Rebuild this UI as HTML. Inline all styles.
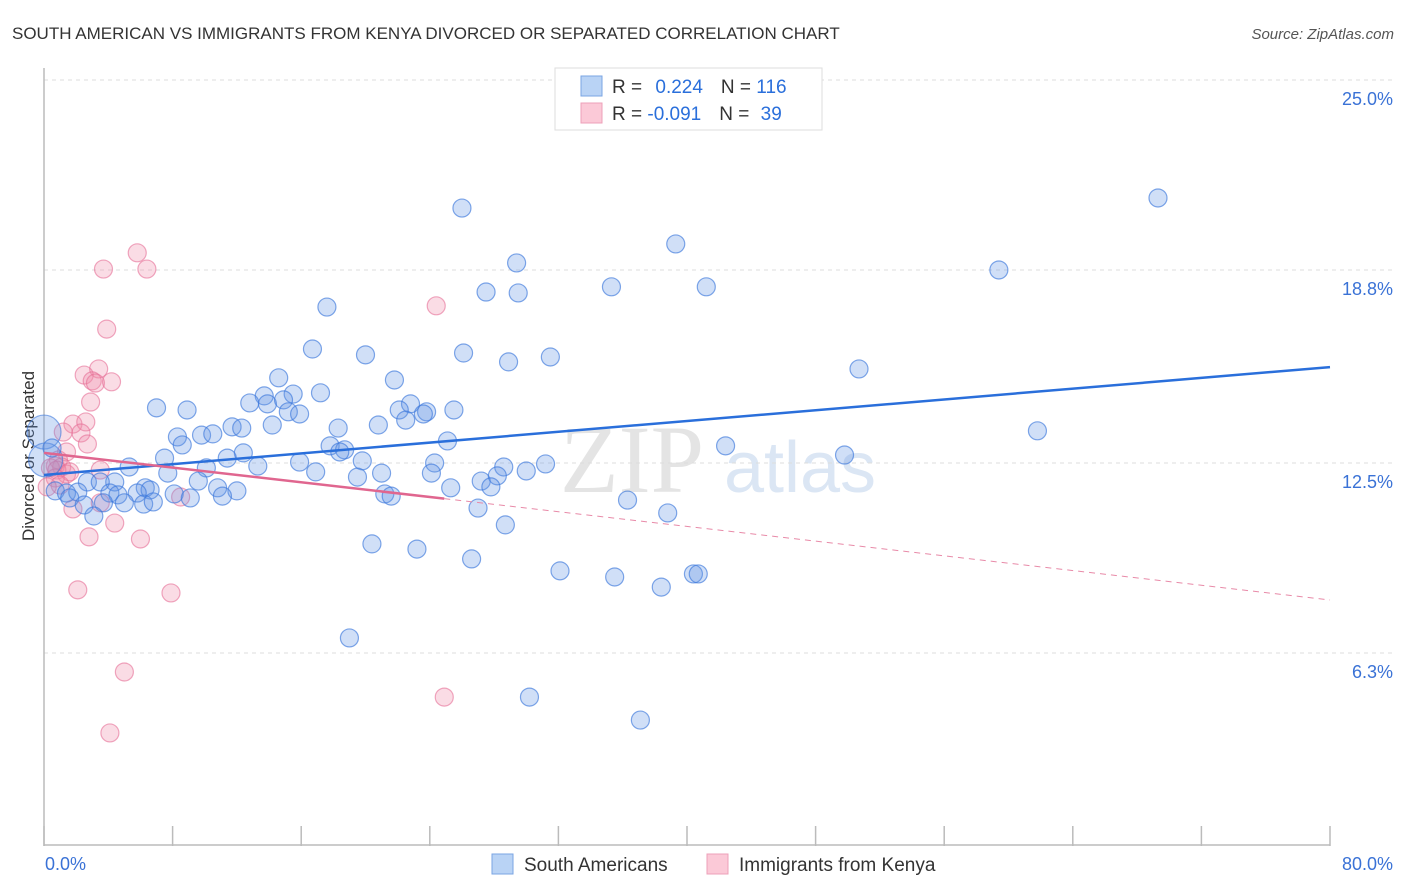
<!DOCTYPE html>
<html><head><meta charset="utf-8"><style>
body{margin:0;background:#fff;font-family:"Liberation Sans",sans-serif;}
#wrap{position:relative;width:1406px;height:892px;overflow:hidden;}
</style></head><body>
<div id="wrap">
<svg id="chart" width="1406" height="892" xmlns="http://www.w3.org/2000/svg">
<text x="12" y="39" font-size="17" fill="#333">SOUTH AMERICAN VS IMMIGRANTS FROM KENYA DIVORCED OR SEPARATED CORRELATION CHART</text>
<text x="1394" y="39" font-size="15" fill="#555" font-style="italic" text-anchor="end">Source: ZipAtlas.com</text>
<text x="34" y="456" font-size="17" fill="#333" text-anchor="middle" transform="rotate(-90 34 456)">Divorced or Separated</text>
<g><text x="632" y="492" font-size="96" fill="#e4e4e4" font-family="Liberation Serif,serif" text-anchor="middle">ZIP</text><text x="800" y="492" font-size="72" fill="#dbe6f4" text-anchor="middle">atlas</text></g>
<g id="grid"></g><g id="axes"></g><g id="pts"></g><g id="lines"></g>
<g>
<rect x="555" y="68" width="267" height="62" fill="#fff" stroke="#ddd"/>
<rect x="581" y="76" width="21" height="20" fill="#b9d3f5" stroke="#7aa5e3"/>
<rect x="581" y="103" width="21" height="20" fill="#fbc9d7" stroke="#eea0b8"/>
<text x="612" y="93" font-size="19" fill="#333">R = <tspan fill="#2a6fdb" dx="8">0.224</tspan><tspan fill="#333" dx="18">N = </tspan><tspan fill="#2a6fdb">116</tspan></text>
<text x="612" y="120" font-size="19" fill="#333">R = <tspan fill="#2a6fdb">-0.091</tspan><tspan fill="#333" dx="18">N = </tspan><tspan fill="#2a6fdb" dx="6">39</tspan></text>
</g>
<g>
<rect x="492" y="854" width="21" height="20" fill="#b9d3f5" stroke="#7aa5e3"/>
<text x="524" y="871" font-size="19" fill="#333">South Americans</text>
<rect x="707" y="854" width="21" height="20" fill="#fbc9d7" stroke="#eea0b8"/>
<text x="739" y="871" font-size="19" fill="#333">Immigrants from Kenya</text>
</g>
</svg>
</div>
<script>
const blueX=[26.0,69.3,39.3,29.4,59.4,35.3,41.2,27.5,29.5,17.6,16.7,20.0,26.1,28.9,31.5,50.7,14.6,21.8,13.7,15.5,17.2,12.8,13.9,14.9,7.0,8.9,15.2,15.9,22.8,22.1,23.8,25.5,23.6,22.5,20.8,18.3,14.2,11.7,12.3,8.3,9.8,10.5,8.6,17.8,18.7,18.4,25.1,42.4,61.8,12.4,11.4,7.5,15.9,19.8,24.3,13.3,31.2,49.8,5.3,10.1,7.7,16.9,21.0,19.5,28.6,24.1,30.0,27.2,28.2,27.8,9.6,2.7,4.4,6.3,3.5,12.0,10.8,6.6,0.7,1.4,2.1,4.1,4.6,5.8,8.1,21.2,21.6,25.3,11.1,9.1,1.6,3.7,2.5,5.0,6.2,6.8,36.3,27.0,38.8,3.1,28.7,20.4,23.2,26.6,32.1,35.5,38.4,40.4,40.7,19.0,30.2,37.1,0.5];
const blueY=[20.82,21.15,19.65,19.03,18.80,18.25,18.25,18.08,18.05,17.59,16.22,16.03,16.09,15.80,15.96,15.57,15.28,15.21,14.69,14.75,14.79,14.46,14.43,14.56,14.30,14.23,14.17,14.10,14.43,14.23,14.17,14.23,14.10,13.90,13.74,13.64,13.74,13.68,13.64,13.35,13.41,13.45,13.09,13.06,12.93,12.86,13.22,13.06,13.55,12.83,12.66,12.66,12.53,12.57,12.50,12.40,12.47,12.76,12.37,12.34,12.17,12.21,12.17,12.04,12.37,12.17,12.24,11.91,12.08,11.72,11.91,11.88,11.88,11.69,11.88,11.59,11.69,11.62,11.59,11.52,11.55,11.52,11.46,11.52,11.49,11.49,11.42,11.69,11.42,11.36,11.36,11.20,11.13,11.20,11.16,11.23,11.29,11.03,10.87,10.77,10.48,9.86,9.69,9.37,8.98,8.78,8.45,8.88,8.88,6.79,4.86,4.11,12.99];
const blueBigX=[0.0,0.1];
const blueBigY=[13.51,12.60];
const pinkX=[5.8,3.7,6.4,24.4,3.9,3.4,2.5,3.0,3.2,4.2,2.9,1.8,2.6,1.2,2.3,2.7,1.4,0.9,0.7,1.1,1.4,0.4,0.8,1.6,0.7,1.0,0.2,8.5,3.5,1.8,4.4,2.8,6.0,2.1,7.9,5.0,24.9,4.1,3.5];
const pinkY=[19.36,18.83,18.83,17.63,16.87,15.57,15.37,15.18,15.11,15.15,14.49,13.77,13.84,13.51,13.48,13.12,12.86,12.60,12.40,12.37,12.14,12.34,12.27,12.21,12.01,11.78,11.72,11.39,11.20,11.00,10.54,10.09,10.02,8.36,8.26,5.68,4.86,3.69,12.27];
const yTickVals=[25.0,18.8,12.5,6.3];
const yTickLabels=["25.0%","18.8%","12.5%","6.3%"];
const xTickVals=[0,8,16,24,32,40,48,56,64,72,80];
const xEndLabels=["0.0%","80.0%"];
const blueTrend=[12.11,15.63];
const pinkTrend=[12.83,8.03];
const pinkSolidEnd=24.9;

const NS="http://www.w3.org/2000/svg";
const X0=44,X1=1330,Y0=846,YS=30.64;
const xs=v=>X0+(X1-X0)*v/80;
const ys=v=>Y0-v*YS;
function mk(tag,attrs,parent){const e=document.createElementNS(NS,tag);for(const k in attrs)e.setAttribute(k,attrs[k]);document.getElementById(parent).appendChild(e);return e;}

yTickVals.forEach((v,i)=>{
  const g=mk('line',{x1:X0,x2:1394,y1:ys(v),y2:ys(v),stroke:'#ddd','stroke-dasharray':'4,4'},'grid');
  
  
  const t=mk('text',{x:1393,y:ys(v)+25,'font-size':18,fill:'#3a72d6','text-anchor':'end'},'axes');
  t.textContent=yTickLabels[i];
  
  
});
const ax=mk('line',{x1:X0,x2:X0,y1:68,y2:Y0,stroke:'#bbb','stroke-width':1.5},'axes');


const bx=mk('line',{x1:X0,x2:X1,y1:Y0-1,y2:Y0-1,stroke:'#bbb','stroke-width':1.5},'axes');


xTickVals.forEach(v=>{
  const t=mk('line',{x1:xs(v),x2:xs(v),y1:826,y2:Y0,stroke:'#bbb','stroke-width':1.5},'axes');
  
  
});
const l0=mk('text',{x:45,y:870,'font-size':18,fill:'#3a72d6'},'axes');
l0.textContent=xEndLabels[0];


const l1=mk('text',{x:1393,y:870,'font-size':18,fill:'#3a72d6','text-anchor':'end'},'axes');
l1.textContent=xEndLabels[1];



pinkX.forEach((v,i)=>{
  const c=mk('circle',{cx:xs(v),cy:ys(pinkY[i]),r:9,fill:'rgba(240,140,170,0.3)',stroke:'rgba(230,110,150,0.6)','stroke-width':1.2},'pts');
  
  
});
blueBigX.forEach((v,i)=>{
  const c=mk('circle',{cx:xs(v),cy:ys(blueBigY[i]),r:17,fill:'rgba(100,150,230,0.3)',stroke:'rgba(60,120,220,0.6)','stroke-width':1.2},'pts');
  
  
});
blueX.forEach((v,i)=>{
  const c=mk('circle',{cx:xs(v),cy:ys(blueY[i]),r:9,fill:'rgba(100,150,230,0.3)',stroke:'rgba(60,120,220,0.65)','stroke-width':1.2},'pts');
  
  
});
const bl=mk('line',{x1:xs(0),y1:ys(blueTrend[0]),x2:xs(80),y2:ys(blueTrend[1]),stroke:'#2a6fdb','stroke-width':2.5},'lines');


const pm=v=>pinkTrend[0]+(pinkTrend[1]-pinkTrend[0])*v/80;
const pl=mk('line',{x1:xs(0),y1:ys(pinkTrend[0]),x2:xs(pinkSolidEnd),y2:ys(pm(pinkSolidEnd)),stroke:'#e0668f','stroke-width':2.5},'lines');


const pd=mk('line',{x1:xs(pinkSolidEnd),y1:ys(pm(pinkSolidEnd)),x2:xs(80),y2:ys(pinkTrend[1]),stroke:'#e88aa8','stroke-width':1,'stroke-dasharray':'6,5'},'lines');


</script>
</body></html>
